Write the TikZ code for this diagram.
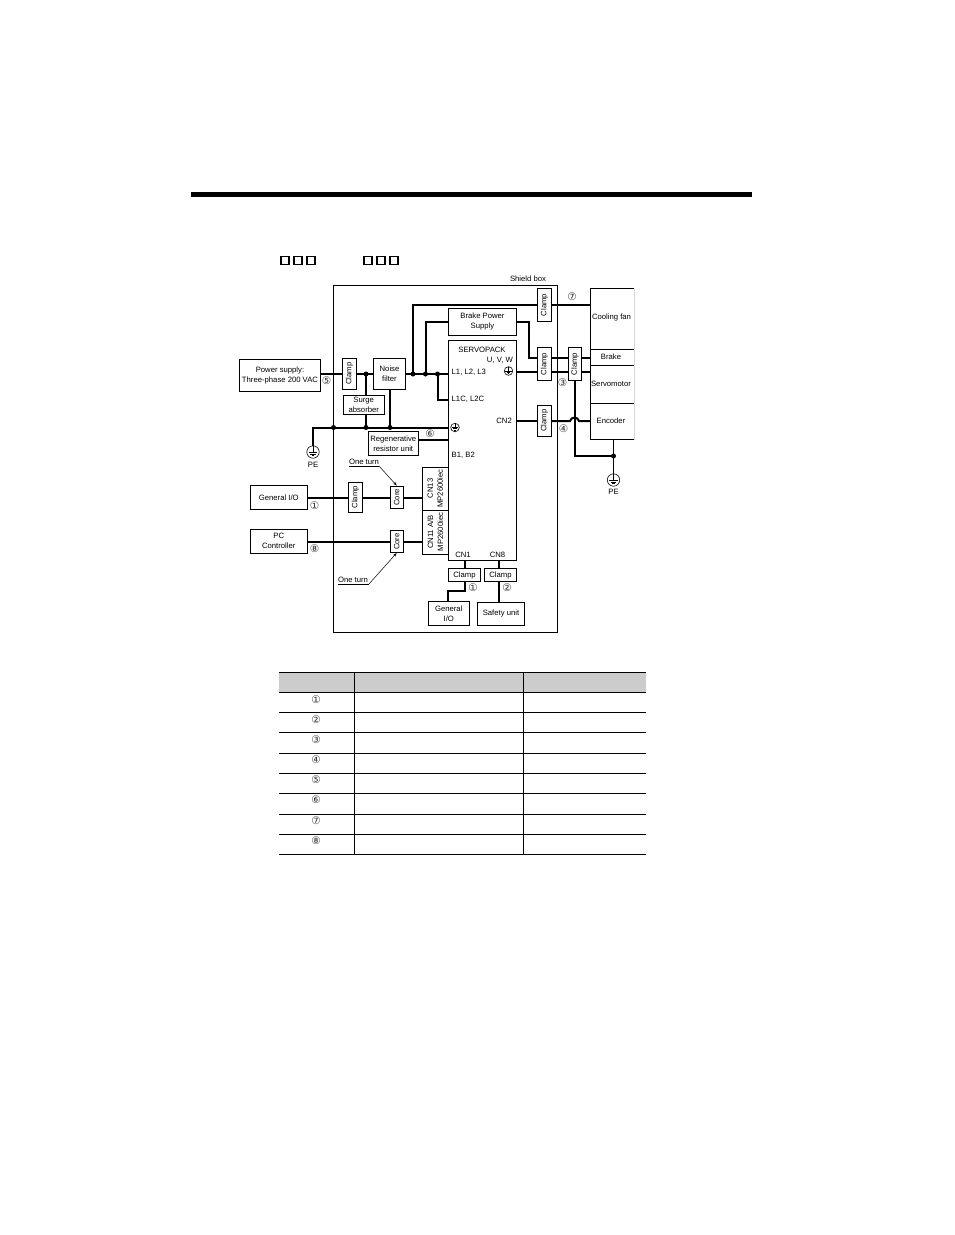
\documentclass[tikz,border=0pt]{standalone}
\usepackage{fontspec}
\setmainfont{Liberation Sans}
\newfontfamily\circfont{DejaVu Sans}
\usetikzlibrary{arrows.meta}
\tikzset{
  x=1pt,y=-1pt,
  box/.style={draw=black,line width=0.8pt,fill=white,inner sep=0pt,align=center,font=\fontsize{7.7}{10}\selectfont},
  vbox/.style={box,rotate=90},
  lab/.style={inner sep=0pt,align=center,font=\fontsize{7.7}{9}\selectfont},
  num/.style={inner sep=0pt,text=black!80,font=\fontsize{10.5}{11}\circfont},
  cable/.style={line width=2pt,line join=miter},
  leader/.style={line width=0.5pt,-{Stealth[length=4pt,width=2.6pt]}},
  under/.style={line width=0.5pt},
  dot/.style={circle,fill=black,inner sep=0pt,minimum size=5pt},
  sq/.style={draw=black,line width=1.8pt,minimum size=8pt,inner sep=0pt},
  earth/.pic={
    \draw[line width=0.6pt] (0,0) circle (#1);
    \draw[line width=0.9pt] (0,-#1) -- (0,0);
    \draw[line width=0.9pt] ({-0.72*#1},0) -- ({0.72*#1},0);
    \draw[line width=0.9pt] ({-0.45*#1},{0.32*#1}) -- ({0.45*#1},{0.32*#1});
    \draw[line width=0.9pt] ({-0.2*#1},{0.62*#1}) -- ({0.2*#1},{0.62*#1});
  },
}
\newcommand{\bx}[6]{\node[#1,minimum width=#5-#3,minimum height=#6-#4] (#2) at ({(#3+#5)/2},{(#4+#6)/2}) }
\newcommand{\vb}[6]{\node[#1,minimum width=#6-#4,minimum height=#5-#3] (#2) at ({(#3+#5)/2},{(#4+#6)/2}) }
\begin{document}
\begin{tikzpicture}
\useasboundingbox (0,0) rectangle (954,1235);
\fill[white] (0,0) rectangle (954,1235);
% top rule
\fill[black] (191,192) rectangle (752,197);
% squares
\foreach \n/\xx in {a/285,b/298,c/311,d/368,e/381,f/394}
  \node[sq] (sq\n) at (\xx,260.5) {};
% shield box
\bx{box}{shield}{333.5}{285.5}{557.5}{632.5}{};
\node[lab] (shieldlab) at (528,278.5) {Shield box};
% coordinates
\coordinate (j1) at (366,374);
\coordinate (j2) at (413,374);
\coordinate (j3) at (425.5,374);
\coordinate (j4) at (437.5,374);
\coordinate (g0) at (333.5,427.5);
\coordinate (g1) at (366,427.5);
\coordinate (g2) at (390,427.5);
\coordinate (gL) at (313,427.5);
\coordinate (pe1) at (313,446);
\coordinate (pe2) at (613.5,474);
\coordinate (jpe) at (613.5,456);
\coordinate (bend) at (574.5,456);
% boxes
\bx{box}{ps}{239.5}{359.5}{320.5}{391}{Power supply:\\Three-phase 200 VAC};
\vb{vbox}{clA}{342.5}{358.5}{356.5}{389}{Clamp};
\bx{box}{nf}{373.5}{358.5}{405.5}{389}{Noise\\filter};
\bx{box}{sa}{343.5}{395.5}{384}{414}{Surge\\absorber};
\bx{box}{reg}{368.5}{431.5}{418}{455}{Regenerative\\resistor unit};
\bx{box}{sp}{448.5}{340.5}{516.5}{560}{};
\bx{box}{bps}{448.5}{308.5}{516.5}{335.5}{Brake Power\\Supply};
\vb{vbox}{clB}{537.5}{288.5}{551.5}{321.5}{Clamp};
\vb{vbox}{clC}{537.5}{347.5}{551.5}{380.5}{Clamp};
\vb{vbox}{clD}{568.5}{347.5}{581.5}{380.5}{Clamp};
\vb{vbox}{clE}{537.5}{405}{551.5}{436.5}{Clamp};
\vb{vbox}{clF}{348.5}{482}{362.5}{512.5}{Clamp};
\vb{vbox}{coA}{390}{486}{403.5}{508.5}{Core};
\vb{vbox}{coB}{390}{530.5}{403.5}{552.5}{Core};
\bx{box}{gio}{250}{485}{307.5}{509.5}{General I/O};
\bx{box}{pc}{250}{529}{307.5}{553.5}{PC\\Controller};
\vb{vbox}{cnA}{422}{467}{448.5}{510}{CN13\\MP2600iec};
\vb{vbox}{cnB}{422}{510}{448.5}{554}{CN11 A/B\\MP2600iec};
\bx{box}{clG}{448.5}{568.5}{480.5}{581.5}{Clamp};
\bx{box}{clH}{484.5}{568.5}{516.5}{581.5}{Clamp};
\bx{box}{gio2}{428.5}{601.5}{469}{625.5}{General\\I/O};
\bx{box}{safe}{477.5}{602}{524.5}{625.5}{Safety unit};
% motor column
\draw[line width=0.4pt,black!15] (634,288.5) -- (634,439.5);
\draw[line width=0.8pt] (634,288.5) -- (590.5,288.5) -- (590.5,439.5) -- (634,439.5);
\draw[line width=0.8pt] (590.5,349) -- (634,349) (590.5,365) -- (634,365) (590.5,403.5) -- (634,403.5);
\node[lab] (fan) at (611.5,317.5) {Cooling fan};
\node[lab] (brake) at (611,356.5) {Brake};
\node[lab] (motor) at (611,383.5) {Servomotor};
\node[lab] (enc) at (611,421) {Encoder};
\coordinate (fanp) at (590.5,305);
\coordinate (brakep) at (590.5,357.5);
\coordinate (motorp) at (590.5,372);
\coordinate (encp) at (590.5,421);
% cables
\draw[cable] (ps.east |- j1) -- (clA.north |- j1);
\draw[cable] (clA.south |- j1) -- (nf.west |- j1);
\draw[cable] (nf.east |- j1) -- (sp.west |- j1);
\draw[cable] (j2) |- (clB.north |- fanp);
\draw[cable] (clB.south |- fanp) -- (fanp);
\draw[cable] (j3) |- (bps.west |- 0,321.5);
\draw[cable] (j4) |- (sp.west |- 0,400);
\draw[cable] (j1) -- (j1 |- sa.north);
\draw[cable] (j1 |- sa.south) -- (g1);
\draw[cable] (g2 |- nf.south) -- (g2);
\draw[cable] (pe1) -- (gL) -- (sp.west |- g0);
\draw[cable] (reg.east |- 0,440) -- (sp.west |- 0,440);
\draw[cable] (bps.east |- 0,321.5) -- (529,321.5) -- (529,357.5) -- (clC.north |- brakep);
\draw[cable] (clC.south |- brakep) -- (clD.north |- brakep);
\draw[cable] (clD.south |- brakep) -- (brakep);
\draw[cable] (sp.east |- motorp) -- (clC.north |- motorp);
\draw[cable] (clC.south |- motorp) -- (clD.north |- motorp);
\draw[cable] (clD.south |- motorp) -- (motorp);
\draw[cable] (sp.east |- encp) -- (clE.north |- encp);
\draw[cable] (clE.south |- encp) -- (570,421) .. controls (571,416.5) and (578,416.5) .. (579,421) -- (encp);
\draw[cable] (bend |- clD.west) -- (bend) -- (jpe);
\draw[line width=1pt] (613.5,439.5) -- (pe2);
\draw[cable] (gio.east |- 0,497.5) -- (clF.north |- 0,497.5);
\draw[cable] (clF.south |- 0,497.5) -- (coA.north |- 0,497.5);
\draw[cable] (coA.south |- 0,497.5) -- (cnA.north |- 0,497.5);
\draw[cable] (pc.east |- 0,541.5) -- (coB.north |- 0,541.5);
\draw[cable] (coB.south |- 0,541.5) -- (cnB.north |- 0,541.5);
\draw[cable] (464.5,560) -- (464.5,0 |- clG.north);
\draw[cable] (499,560) -- (499,0 |- clH.north);
\draw[cable] (464.5,0 |- clG.south) -- (464.5,591) -- (448,591) -- (448,0 |- gio2.north);
\draw[cable] (499,0 |- clH.south) -- (499,0 |- safe.north);
% dots
\foreach \p in {j1,j2,j3,j4,g0,g1,g2,jpe}
  \node[dot] at (\p) {};
% grounds
\pic at (313,452) {earth=6.2};
\pic at (613.5,480) {earth=6.2};
\pic at (455,427.5) {earth=4.3};
\pic at (508.5,371) {earth=4.3};
\node[lab] (pel) at (313,464.5) {PE};
\node[lab] (per) at (613.5,491.5) {PE};
% servopack labels
\node[lab] (t1) at (482,350) {SERVOPACK};
\node[lab,anchor=east] (t2) at (513,360.5) {U, V, W};
\node[lab,anchor=west] (t3) at (451.5,372.5) {L1, L2, L3};
\node[lab,anchor=west] (t4) at (451.5,399.5) {L1C, L2C};
\node[lab,anchor=east] (t5) at (512,420.5) {CN2};
\node[lab,anchor=west] (t6) at (451.5,455.5) {B1, B2};
\node[lab] (t7) at (463,554.5) {CN1};
\node[lab] (t8) at (497.5,554.5) {CN8};
% one-turn
\node[lab] (ot1) at (364,461.5) {One turn};
\draw[under] (349,466) -- (379,466);
\draw[leader] (379,466) -- (coA.east);
\node[lab] (ot2) at (353,580) {One turn};
\draw[under] (338,584) -- (369,584);
\draw[leader] (369,584) -- (coB.west);
% circled numbers
\node[num] (n5) at (326.5,381) {⑤};
\node[num] (n6) at (430,434) {⑥};
\node[num] (n7) at (572,296.5) {⑦};
\node[num] (n3) at (562.5,382.5) {③};
\node[num] (n4) at (563.5,429) {④};
\node[num] (n1) at (314.5,505.5) {①};
\node[num] (n8) at (314.5,549) {⑧};
\node[num] (n1b) at (473,587.5) {①};
\node[num] (n2) at (507,588) {②};
% table
\fill[black!20] (279,672.5) rectangle (646,692);
\draw[line width=0.8pt] (279,672.5) -- (646,672.5);
\foreach \yy in {692,712.5,732.5,753.5,773.5,793.5,814,834,854.5}
  \draw[line width=0.8pt] (279,\yy) -- (646,\yy);
\draw[line width=0.8pt] (354.5,672.5) -- (354.5,854.5) (523.5,672.5) -- (523.5,854.5);
\foreach \yy/\s/\nm in {700/①/a,720/②/b,740/③/c,759.5/④/d,780/⑤/e,800/⑥/f,821/⑦/g,841/⑧/h}
  \node[num] (row\nm) at (316,\yy) {\s};
\end{tikzpicture}
\end{document}
